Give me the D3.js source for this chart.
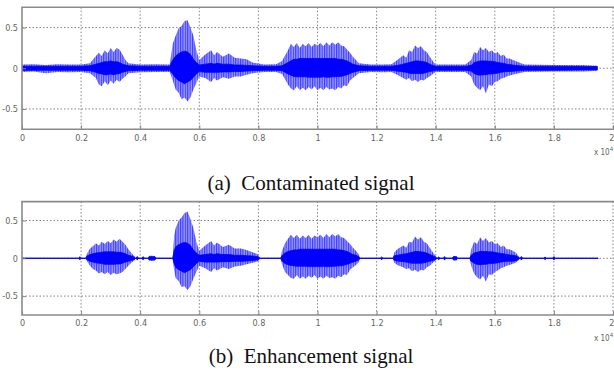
<!DOCTYPE html>
<html>
<head>
<meta charset="utf-8">
<script src="https://cdn.jsdelivr.net/npm/d3@7"></script>
<style>
  body { margin: 0; background: #fff; }
  svg { display: block; }
  .axis text { font-family: "Liberation Sans Narrow", "DejaVu Sans Condensed", "Liberation Sans", sans-serif; font-size: 9px; fill: #666; }
  .axis line { stroke: #888; }
  .axis path { display: none; }
  .caption { font-family: "Liberation Serif", "Times New Roman", serif; font-size: 21px; fill: #111; white-space: pre; }
</style>
</head>
<body>
<svg id="chart" width="614" height="378"></svg>
<script>
// tick labels
const xTicks = [0, 0.2, 0.4, 0.6, 0.8, 1, 1.2, 1.4, 1.6, 1.8, 2];
const yTicks = [-0.5, 0, 0.5];

// (a) contaminated signal: time (x10^4 samples), outer / inner envelope
const timeA = [0, 0.04, 0.08, 0.12, 0.16, 0.2, 0.23, 0.25, 0.26, 0.27, 0.28, 0.29, 0.3, 0.31, 0.32, 0.33, 0.34, 0.35, 0.36, 0.4, 0.45, 0.5,
  0.51, 0.52, 0.53, 0.54, 0.55, 0.56, 0.57, 0.58, 0.59, 0.6, 0.62, 0.64, 0.65, 0.66, 0.68, 0.7, 0.72, 0.74, 0.76, 0.78, 0.82, 0.86, 0.88,
  0.9, 0.91, 0.92, 0.93, 0.94, 0.95, 0.96, 0.97, 0.98, 0.99, 1, 1.01, 1.02, 1.03, 1.04, 1.05, 1.06, 1.07, 1.08, 1.09, 1.1, 1.11, 1.12, 1.14,
  1.18, 1.22, 1.25, 1.27, 1.29, 1.3, 1.31, 1.32, 1.33, 1.34, 1.35, 1.36, 1.37, 1.38, 1.39, 1.4, 1.45, 1.5,
  1.52, 1.53, 1.54, 1.55, 1.56, 1.57, 1.58, 1.59, 1.6, 1.61, 1.62, 1.63, 1.64, 1.65, 1.67, 1.7, 1.8, 1.9, 1.947];
const outerHiA = [.045, .05, .04, .05, .045, .045, .06, .15, .19, .15, .22, .18, .25, .20, .25, .23, .17, .10, .06, .045, .05, .045,
  .30, .40, .49, .52, .58, .59, .50, .40, .22, .10, .17, .22, .16, .20, .14, .18, .13, .12, .11, .07, .045, .05, .09,
  .22, .30, .26, .31, .25, .30, .27, .31, .26, .30, .28, .31, .27, .32, .28, .32, .29, .32, .28, .27, .23, .19, .14, .06,
  .045, .045, .05, .10, .16, .13, .22, .20, .28, .25, .27, .22, .20, .14, .09, .045, .045, .045,
  .10, .20, .18, .26, .22, .25, .20, .22, .18, .20, .15, .17, .12, .12, .09, .045, .04, .04, .03];
const outerLoA = [-.045, -.04, -.06, -.045, -.05, -.045, -.06, -.12, -.20, -.22, -.16, -.21, -.15, -.19, -.14, -.17, -.13, -.10, -.06, -.05, -.045, -.045,
  -.15, -.26, -.30, -.38, -.36, -.41, -.36, -.26, -.18, -.10, -.12, -.17, -.12, -.15, -.11, -.13, -.10, -.10, -.08, -.06, -.045, -.045, -.07,
  -.20, -.25, -.27, -.22, -.27, -.24, -.27, -.23, -.26, -.22, -.27, -.24, -.27, -.23, -.26, -.25, -.27, -.23, -.25, -.21, -.22, -.15, -.12, -.06,
  -.045, -.05, -.045, -.08, -.12, -.14, -.12, -.16, -.14, -.17, -.14, -.15, -.12, -.10, -.07, -.045, -.045, -.045,
  -.10, -.20, -.24, -.27, -.22, -.31, -.20, -.22, -.17, -.16, -.13, -.12, -.10, -.09, -.07, -.045, -.04, -.04, -.03];
const innerHiA = [.025, .025, .025, .025, .025, .025, .03, .05, .06, .07, .08, .08, .09, .08, .08, .07, .05, .04, .03, .025, .025, .025,
  .10, .15, .18, .20, .21, .20, .17, .11, .07, .04, .05, .06, .05, .06, .05, .05, .04, .04, .035, .03, .025, .025, .03,
  .07, .09, .11, .11, .12, .12, .12, .12, .12, .12, .12, .12, .12, .12, .12, .12, .12, .11, .11, .10, .09, .07, .05, .03,
  .025, .025, .025, .035, .05, .06, .07, .08, .09, .09, .085, .08, .07, .05, .035, .025, .025, .025,
  .035, .07, .08, .09, .09, .09, .085, .085, .08, .07, .065, .06, .05, .045, .035, .025, .025, .02, .02];
const innerLoA = [-.025, -.025, -.025, -.025, -.025, -.025, -.03, -.05, -.065, -.07, -.08, -.08, -.07, -.08, -.07, -.065, -.05, -.04, -.03, -.025, -.025, -.025,
  -.07, -.12, -.15, -.17, -.19, -.17, -.15, -.11, -.07, -.04, -.05, -.05, -.05, -.05, -.045, -.045, -.04, -.04, -.035, -.03, -.025, -.025, -.03,
  -.07, -.085, -.10, -.105, -.105, -.105, -.105, -.11, -.11, -.11, -.11, -.11, -.105, -.11, -.11, -.105, -.105, -.10, -.10, -.09, -.08, -.065, -.05, -.03,
  -.025, -.025, -.025, -.035, -.045, -.05, -.06, -.065, -.065, -.065, -.065, -.06, -.05, -.04, -.035, -.025, -.025, -.025,
  -.035, -.065, -.08, -.085, -.08, -.08, -.07, -.07, -.065, -.06, -.05, -.045, -.04, -.04, -.035, -.025, -.025, -.02, -.02];

// (b) enhancement signal
const timeB = [0, 0.193, 0.196, 0.199, 0.215, 0.22, 0.23, 0.24, 0.25, 0.26, 0.27, 0.28, 0.29, 0.3, 0.31, 0.32, 0.33, 0.34, 0.35, 0.36, 0.37, 0.38,
  0.385, 0.39, 0.395, 0.405, 0.41, 0.415, 0.425, 0.43, 0.44, 0.45, 0.455, 0.51,
  0.515, 0.52, 0.53, 0.54, 0.55, 0.56, 0.57, 0.58, 0.59, 0.6, 0.62, 0.64, 0.65, 0.66, 0.68, 0.7, 0.72, 0.74, 0.76, 0.78, 0.8, 0.805, 0.875,
  0.88, 0.89, 0.9, 0.91, 0.92, 0.93, 0.94, 0.95, 0.96, 0.97, 0.98, 0.99, 1, 1.01, 1.02, 1.03, 1.04, 1.05, 1.06, 1.07, 1.08, 1.09, 1.1, 1.11, 1.12, 1.13, 1.14, 1.145,
  1.212, 1.217, 1.222, 1.255, 1.26, 1.27, 1.29, 1.3, 1.31, 1.32, 1.33, 1.34, 1.35, 1.36, 1.37, 1.38, 1.39, 1.4, 1.405,
  1.41, 1.415, 1.425, 1.43, 1.435, 1.455, 1.46, 1.47, 1.475, 1.515,
  1.52, 1.53, 1.54, 1.55, 1.56, 1.57, 1.58, 1.59, 1.6, 1.61, 1.62, 1.63, 1.64, 1.65, 1.67, 1.68, 1.685, 1.69, 1.695,
  1.765, 1.77, 1.775, 1.795, 1.8, 1.805, 1.95];
const outerHiB = [0, 0, .03, 0, 0, .06, .13, .16, .20, .17, .22, .19, .23, .20, .25, .22, .26, .22, .18, .12, .07, .03,
  0, .035, 0, 0, .03, 0, 0, .035, .035, .03, 0, 0,
  .30, .40, .50, .54, .60, .62, .52, .40, .22, .10, .17, .23, .17, .21, .15, .18, .13, .13, .11, .08, .05, 0, 0,
  .10, .20, .26, .31, .27, .31, .26, .30, .27, .31, .26, .30, .28, .31, .27, .32, .28, .32, .29, .32, .28, .27, .23, .19, .14, .10, .05, 0,
  0, .025, 0, 0, .08, .12, .17, .14, .22, .21, .29, .25, .28, .22, .20, .14, .08, .03, 0,
  .025, 0, 0, .03, 0, 0, .03, .03, 0, 0,
  .12, .22, .19, .28, .23, .27, .21, .23, .19, .20, .15, .17, .12, .12, .08, .03, 0, .035, 0,
  0, .025, 0, 0, .035, 0, 0];
const outerLoB = [0, 0, -.025, 0, 0, -.04, -.10, -.14, -.16, -.20, -.18, -.21, -.18, -.22, -.19, -.21, -.20, -.18, -.14, -.10, -.06, -.03,
  0, -.03, 0, 0, -.025, 0, 0, -.03, -.035, -.03, 0, 0,
  -.16, -.26, -.30, -.38, -.37, -.42, -.37, -.27, -.18, -.10, -.13, -.18, -.13, -.16, -.12, -.14, -.11, -.10, -.08, -.06, -.04, 0, 0,
  -.08, -.18, -.22, -.26, -.27, -.22, -.27, -.24, -.27, -.23, -.26, -.22, -.27, -.24, -.27, -.23, -.26, -.25, -.27, -.23, -.25, -.21, -.22, -.15, -.12, -.09, -.05, 0,
  0, -.025, 0, 0, -.06, -.09, -.12, -.14, -.13, -.17, -.15, -.18, -.15, -.16, -.12, -.10, -.06, -.03, 0,
  -.025, 0, 0, -.03, 0, 0, -.03, -.03, 0, 0,
  -.10, -.20, -.25, -.28, -.23, -.31, -.21, -.22, -.18, -.16, -.13, -.12, -.10, -.09, -.06, -.03, 0, -.03, 0,
  0, -.025, 0, 0, -.03, 0, 0];
const innerHiB = [0, 0, .02, 0, 0, .03, .05, .06, .07, .075, .08, .085, .085, .085, .085, .08, .08, .075, .06, .04, .03, .015,
  0, .02, 0, 0, .02, 0, 0, .02, .02, .02, 0, 0,
  .10, .15, .18, .20, .21, .20, .17, .11, .07, .04, .05, .06, .05, .06, .05, .05, .04, .04, .035, .03, .02, 0, 0,
  .035, .07, .09, .10, .11, .11, .12, .12, .12, .12, .12, .12, .12, .12, .12, .12, .12, .12, .12, .11, .11, .10, .09, .07, .05, .04, .02, 0,
  0, .015, 0, 0, .035, .04, .055, .06, .07, .08, .09, .09, .085, .08, .07, .05, .035, .015, 0,
  .015, 0, 0, .02, 0, 0, .02, .02, 0, 0,
  .04, .07, .08, .09, .09, .09, .085, .085, .08, .07, .065, .06, .05, .045, .035, .015, 0, .02, 0,
  0, .015, 0, 0, .02, 0, 0];
const innerLoB = [0, 0, -.02, 0, 0, -.02, -.04, -.05, -.06, -.065, -.07, -.08, -.08, -.08, -.08, -.075, -.075, -.065, -.05, -.04, -.03, -.015,
  0, -.02, 0, 0, -.02, 0, 0, -.02, -.02, -.02, 0, 0,
  -.07, -.12, -.15, -.17, -.19, -.17, -.15, -.11, -.07, -.04, -.05, -.05, -.05, -.05, -.045, -.045, -.04, -.04, -.035, -.03, -.02, 0, 0,
  -.035, -.07, -.085, -.095, -.10, -.105, -.105, -.105, -.105, -.11, -.11, -.11, -.11, -.11, -.105, -.11, -.11, -.105, -.105, -.10, -.10, -.09, -.08, -.065, -.05, -.04, -.02, 0,
  0, -.015, 0, 0, -.03, -.035, -.045, -.05, -.06, -.065, -.065, -.065, -.065, -.06, -.05, -.04, -.03, -.015, 0,
  -.015, 0, 0, -.02, 0, 0, -.02, -.02, 0, 0,
  -.04, -.065, -.08, -.085, -.08, -.08, -.07, -.07, -.065, -.06, -.05, -.045, -.04, -.04, -.035, -.015, 0, -.02, 0,
  0, -.015, 0, 0, -.02, 0, 0];

const svg = d3.select('#chart');
const left = 22, right = 613;

// streaky fill for the outer envelope, like the dense sample lines in the picture
const streak = svg.append('defs').append('pattern')
  .attr('id', 'streak').attr('patternUnits', 'userSpaceOnUse')
  .attr('width', 2.4).attr('height', 6);
streak.append('rect').attr('width', 2.4).attr('height', 6).attr('fill', '#9a9aff');
streak.append('rect').attr('width', 1.1).attr('height', 6).attr('fill', '#3c3cff');

function drawPanel(top, bottom, time, oHi, oLo, iHi, iLo, caption, capY, baseLine) {
  const x = d3.scaleLinear().domain([0, 2]).range([left, right]);
  const y = d3.scaleLinear().domain([-0.75, 0.75]).range([bottom, top]);
  const g = svg.append('g');
  const clipId = 'clip' + Math.round(top);
  g.append('clipPath').attr('id', clipId)
    .append('rect').attr('x', left).attr('y', top).attr('width', right - left + 2).attr('height', bottom - top);

  // dotted grid
  g.append('g').selectAll('line').data(xTicks.slice(1)).enter().append('line')
    .attr('x1', d => x(d)).attr('x2', d => x(d)).attr('y1', top).attr('y2', bottom)
    .attr('stroke', '#666').attr('stroke-width', 0.8).attr('stroke-dasharray', '1.5,2');
  g.append('g').selectAll('line').data(yTicks).enter().append('line')
    .attr('x1', left).attr('x2', right + 1).attr('y1', d => y(d)).attr('y2', d => y(d))
    .attr('stroke', '#666').attr('stroke-width', 0.8).attr('stroke-dasharray', '1.5,2');

  const rows = time.map((t, i) => ({t: t, oh: oHi[i], ol: oLo[i], ih: iHi[i], il: iLo[i]}));
  const wave = g.append('g').attr('clip-path', `url(#${clipId})`);
  if (baseLine) {
    wave.append('line')
      .attr('x1', x(0)).attr('x2', x(time[time.length - 1]))
      .attr('y1', y(0)).attr('y2', y(0))
      .attr('stroke', '#4444ff').attr('stroke-width', 1);
  }
  wave.append('path').datum(rows)
    .attr('d', d3.area().x(d => x(d.t)).y0(d => y(d.ol)).y1(d => y(d.oh)))
    .attr('fill', 'url(#streak)');
  wave.append('path').datum(rows)
    .attr('d', d3.area().x(d => x(d.t)).y0(d => y(d.il)).y1(d => y(d.ih)))
    .attr('fill', '#0000ff').attr('stroke', '#0000ff').attr('stroke-width', 0.8);

  // frame (right side falls outside the picture)
  g.append('path')
    .attr('d', `M${right + 2},${top}H${left}V${bottom}H${right + 2}`)
    .attr('fill', 'none').attr('stroke', '#8a8a8a').attr('stroke-width', 1.6);

  const xa = g.append('g').attr('class', 'axis')
    .attr('transform', `translate(0,${bottom})`)
    .call(d3.axisBottom(x).tickValues(xTicks).tickSize(-4).tickPadding(5).tickFormat(d => String(d)));
  xa.selectAll('.tick text').filter(d => d === 2).attr('text-anchor', 'end').attr('dx', 1);
  g.append('g').attr('class', 'axis')
    .attr('transform', `translate(${left},0)`)
    .call(d3.axisLeft(y).tickValues(yTicks).tickSize(-4).tickPadding(4).tickFormat(d => String(d)));

  const mult = g.append('text')
    .attr('x', 594).attr('y', bottom + 26)
    .style('font-family', '"Liberation Sans Narrow", "DejaVu Sans Condensed", sans-serif')
    .style('font-size', '8px').style('fill', '#666');
  mult.append('tspan').text('x 10');
  mult.append('tspan').attr('dy', -4).style('font-size', '6px').text('4');

  svg.append('text').attr('class', 'caption')
    .attr('x', 311).attr('y', capY).attr('text-anchor', 'middle')
    .text(caption);
}

drawPanel(7.2, 129.3, timeA, outerHiA, outerLoA, innerHiA, innerLoA, '(a)  Contaminated signal', 190, false);
drawPanel(201.6, 315, timeB, outerHiB, outerLoB, innerHiB, innerLoB, '(b)  Enhancement signal', 363, true);
</script>
</body>
</html>
